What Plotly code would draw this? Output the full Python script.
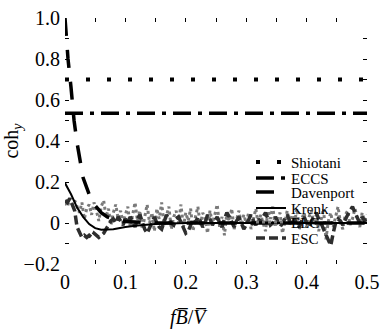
import numpy as np
import plotly.graph_objects as go

# ---------------- data ----------------
shiotani_x = [0.0, 0.5]
shiotani_y = [0.70, 0.70]

eccs_x = [0.0, 0.5]
eccs_y = [0.535, 0.535]

davenport_x = [0.0, 0.005, 0.01, 0.015, 0.02, 0.025, 0.03, 0.04, 0.05, 0.06, 0.07, 0.08, 0.1, 0.15, 0.5]
davenport_y = [1.0, 0.80, 0.66, 0.50, 0.39, 0.30, 0.22, 0.14, 0.085, 0.05, 0.03, 0.02, 0.007, 0.0, 0.0]

krenk_x = [0.0, 0.01, 0.02, 0.03, 0.04, 0.05, 0.06, 0.08, 0.1, 0.12, 0.15, 0.2, 0.3, 0.4, 0.5]
krenk_y = [0.195, 0.14, 0.075, 0.03, -0.005, -0.025, -0.033, -0.03, -0.02, -0.012, -0.005, 0.0, 0.0, 0.0, 0.0]

# measured spectra sampled on a uniform frequency grid f*B/V = 0, 0.004, ..., 0.5
freq_grid = np.linspace(0.0, 0.5, 126)

elc_y = [0.10, 0.08, 0.12, 0.09, 0.11,
         0.08, 0.05, 0.10, 0.02, 0.07, 0.09, 0.04, 0.10, 0.06, 0.01, 0.08, 0.11,
         0.03, 0.07, -0.01, 0.05, 0.09, 0.02, 0.06, 0.00, 0.04,
         0.08, -0.02, 0.05, 0.10, 0.01, 0.06, -0.03, 0.04, 0.09, 0.00, 0.05, -0.04, 0.07,
         0.02, 0.10, -0.01, 0.04, 0.08, -0.03, 0.03, 0.06, 0.00, 0.09, -0.02, 0.05,
         0.01, 0.07, -0.04, 0.03, 0.08, -0.01, 0.05, 0.02, -0.05, 0.06, 0.00, 0.04, 0.09,
         -0.02, 0.03, -0.06, 0.05, 0.01, 0.07, -0.03, 0.02, 0.06, -0.01, 0.04, 0.00,
         0.05, -0.03, 0.02, 0.07, -0.01, 0.04, 0.00, -0.04, 0.06, 0.02, 0.08, -0.02, 0.03,
         0.05, -0.05, 0.01, 0.06, -0.01, 0.04, 0.00, 0.07, -0.03, 0.02, 0.05, -0.02,
         0.03, 0.06, -0.01, 0.04, -0.04, 0.02, 0.07, -0.08, 0.01, 0.05, -0.02, 0.03, 0.08,
         0.00, -0.03, 0.04, 0.06, -0.01, 0.02, 0.07, 0.03, -0.02, 0.05, 0.01, 0.04]

esc_y = [0.11, 0.10, 0.12, 0.09, 0.06,
         -0.02, -0.05, -0.07, -0.06, -0.07, -0.06, -0.07, -0.05, -0.06, -0.07, -0.06, -0.05,
         -0.03, -0.01, 0.01, 0.02, 0.00, 0.03, 0.01, -0.01, 0.02,
         0.00, 0.03, 0.01, -0.02, 0.02, 0.04, 0.00, -0.03, -0.05, -0.02, 0.01, 0.03, 0.00,
         -0.02, -0.03, 0.01, 0.04, 0.02, 0.00, -0.01, 0.02, 0.03, 0.00, -0.03, -0.05,
         -0.04, -0.01, 0.02, 0.00, 0.03, 0.01, -0.02, 0.00, 0.04, 0.02, -0.01, 0.01, 0.03,
         0.00, -0.02, 0.02, 0.05, 0.03, 0.00, -0.02, 0.01, 0.03, 0.00, -0.03, -0.01,
         0.02, 0.04, 0.01, -0.01, 0.02, 0.00, 0.03, 0.05, 0.02, -0.01, 0.00, 0.03, 0.01,
         -0.02, 0.00, 0.02, 0.04, 0.01, -0.01, 0.02, 0.00, -0.02, 0.01, 0.03, 0.00,
         -0.02, 0.01, 0.03, 0.05, 0.02, 0.00, -0.03, -0.06, -0.09, -0.11, -0.05, 0.00, 0.02,
         0.01, -0.01, 0.02, 0.04, 0.06, 0.08, 0.05, 0.02, 0.00, 0.03, 0.01, 0.02]

x_tickvals = [0.0, 0.05, 0.1, 0.15, 0.2, 0.25, 0.3, 0.35, 0.4, 0.45, 0.5]
x_ticktext = ["0", "", "0.1", "", "0.2", "", "0.3", "", "0.4", "", "0.5"]
y_tickvals = [-0.2, -0.1, 0.0, 0.1, 0.2, 0.3, 0.4, 0.5, 0.6, 0.7, 0.8, 0.9, 1.0]
y_ticktext = ["\u22120.2", "", "0", "", "0.2", "", "0.4", "", "0.6", "", "0.8", "", "1.0"]

# ---------------- figure ----------------
FONT = "Liberation Serif"
W, H = 382, 332
ML, MR, MT, MB = 65, 2, 18, 68
plot_h = H - MT - MB

# two interleaved legends so neighbouring rows sit 16 px apart
# name, x, y, legend id, line style, draw order
series = [
    ("Shiotani", shiotani_x, shiotani_y, "legend", dict(color="black", width=4, dash="4px,17px"), 3),
    ("ECCS", eccs_x, eccs_y, "legend2", dict(color="black", width=3.5, dash="18px,7px,4px,7px"), 3),
    ("Davenport", davenport_x, davenport_y, "legend", dict(color="black", width=3.5, dash="18px,14px"), 4),
    ("Krenk", krenk_x, krenk_y, "legend2", dict(color="black", width=2), 5),
    ("ELC", freq_grid, elc_y, "legend", dict(color="#7a7a7a", width=3, dash="3px,3px"), 1),
    ("ESC", freq_grid, esc_y, "legend2", dict(color="#2e2e2e", width=3.5, dash="9px,4px"), 2),
]

fig = go.Figure()
for name, xs, ys, leg, line, z in series:
    fig.add_trace(go.Scatter(x=xs, y=ys, mode="lines", name=name, line=line,
                             legend=leg, legendgroup=name, zorder=z, showlegend=True))

legend_x = (259 - ML) / (W - ML - MR)
legend_common = dict(
    x=legend_x, xanchor="left", yanchor="top",
    bgcolor="rgba(255,255,255,0)", borderwidth=0,
    font=dict(family=FONT, size=15, color="black"),
    itemwidth=30, traceorder="grouped", tracegroupgap=7.5,
)
first_row_px = 157
row_half = 11.25  # half of a 22.5 px legend row
legend_layout = dict(
    legend=dict(y=(H - MB - (first_row_px - row_half)) / plot_h, **legend_common),
    legend2=dict(y=(H - MB - (first_row_px + 16 - row_half)) / plot_h, **legend_common),
)

axis_common = dict(
    showline=True, linecolor="black", linewidth=1.2, mirror="ticks",
    ticks="inside", ticklen=4, tickwidth=1, tickcolor="black",
    showgrid=False, zeroline=False,
    tickfont=dict(family=FONT, size=20, color="black"),
)

fig.update_xaxes(range=[0, 0.5], tickmode="array", tickvals=x_tickvals,
                 ticktext=x_ticktext, ticklabeloverflow="allow", **axis_common)
fig.update_yaxes(range=[-0.2, 1.0], tickmode="array", tickvals=y_tickvals,
                 ticktext=y_ticktext, ticklabelstandoff=0,
                 title=dict(text="coh<sub><i>y</i></sub>", standoff=4,
                            font=dict(family=FONT, size=20, color="black")),
                 **axis_common)

fig.update_layout(
    width=W, height=H,
    margin=dict(l=ML, r=MR, t=MT, b=MB, pad=0),
    paper_bgcolor="white", plot_bgcolor="white",
    font=dict(family=FONT, color="black"),
    showlegend=True,
    **legend_layout,
)

fig.add_annotation(
    text="<i>f</i><i>B\u0305</i>/<i>V\u0305</i>",
    xref="paper", yref="paper", x=(194 - ML) / (W - ML - MR), y=-(317 - (H - MB)) / plot_h,
    xanchor="center", yanchor="middle", showarrow=False,
    font=dict(family=FONT, size=20, color="black"),
)

fig.write_html("out.html")
